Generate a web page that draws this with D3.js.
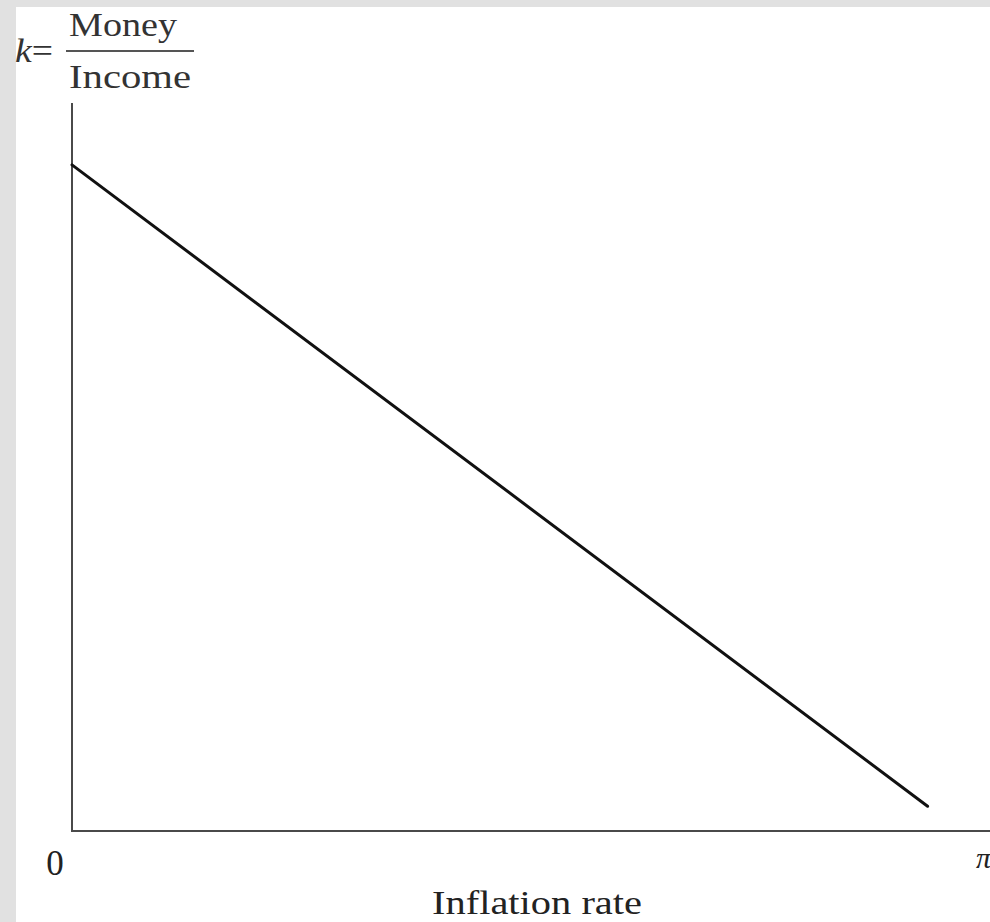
<!DOCTYPE html>
<html>
<head>
<meta charset="utf-8">
<script src="https://cdn.jsdelivr.net/npm/d3@7"></script>
<style>
  body { margin: 0; background: #e1e1e1; }
  svg { display: block; }
</style>
</head>
<body>
<svg id="chart" width="990" height="922"></svg>
<script>
// demand for money relative to income vs inflation (abstract units)
let inflation = [0, 0.932]
let kRatio = [0.915, 0.034]
let xTicks = ["0"]

let width = 990
let height = 922
let origin_x = 72
let origin_y = 831
let top_y = 103

let svg = d3.select("#chart")

// white panel over grey frame
svg.append("rect")
    .attr("x", 16).attr("y", 7)
    .attr("width", width - 16).attr("height", height - 7)
    .style("fill", "white")

let x = d3.scaleLinear().domain([0, 1]).range([origin_x, width])
let y = d3.scaleLinear().domain([0, 1]).range([origin_y, top_y])

let data = inflation.map((d, i) => ({ pi: d, k: kRatio[i] }))

//axes
svg.append("path")
    .attr("d", "M" + x(0) + "," + y(1) + "V" + y(0) + "H" + x(1))
    .style("fill", "none")
    .style("stroke", "#4a4a4a")
    .style("stroke-width", 2)

//money demand line
svg.append("path")
    .datum(data)
    .attr("d", d3.line().x(d => x(d.pi)).y(d => y(d.k)))
    .style("fill", "none")
    .style("stroke", "#111")
    .style("stroke-width", 3)
    .style("stroke-linecap", "round")

let serif = "'Liberation Serif', 'Times New Roman', serif"

//origin label
svg.selectAll(".xtick").data(xTicks).join("text")
    .attr("x", 55).attr("y", 875)
    .attr("text-anchor", "middle")
    .style("font-family", serif).style("font-size", "35px").style("fill", "#222")
    .text(d => d)

//pi at the end of the x axis (cut by the edge, as in the source)
svg.append("text")
    .attr("x", 976).attr("y", 868)
    .style("font-family", serif).style("font-style", "italic")
    .style("font-size", "30px").style("fill", "#222")
    .text("π")

//x-axis label
svg.append("text")
    .attr("x", 432).attr("y", 914)
    .attr("textLength", 210).attr("lengthAdjust", "spacingAndGlyphs")
    .style("font-family", serif).style("font-size", "34px").style("fill", "#222")
    .text("Inflation rate")

//y-axis label as fraction
svg.append("text")
    .attr("x", 15).attr("y", 62)
    .attr("textLength", 38).attr("lengthAdjust", "spacingAndGlyphs")
    .style("font-family", serif).style("font-size", "33px").style("fill", "#333")
    .html("<tspan font-style='italic'>k</tspan>=")
svg.append("text")
    .attr("x", 69).attr("y", 36)
    .attr("textLength", 108).attr("lengthAdjust", "spacingAndGlyphs")
    .style("font-family", serif).style("font-size", "34px").style("fill", "#333")
    .text("Money")
svg.append("line")
    .attr("x1", 66).attr("x2", 194).attr("y1", 51).attr("y2", 51)
    .style("stroke", "#555").style("stroke-width", 2)
svg.append("text")
    .attr("x", 69).attr("y", 88)
    .attr("textLength", 122).attr("lengthAdjust", "spacingAndGlyphs")
    .style("font-family", serif).style("font-size", "34px").style("fill", "#333")
    .text("Income")
</script>
</body>
</html>
